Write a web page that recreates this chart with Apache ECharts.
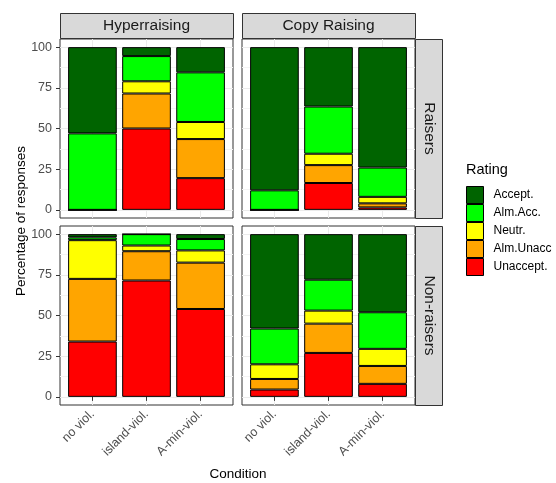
<!DOCTYPE html>
<html><head><meta charset="utf-8">
<script src="https://cdn.jsdelivr.net/npm/echarts@6/dist/echarts.min.js"></script>
<style>html,body{margin:0;padding:0;background:#fff}#c{width:556px;height:483px}</style>
</head><body><div id="c"></div>
<script>
// ---- data ----
const categories = ['no viol.', 'island-viol.', 'A-min-viol.'];
const ratings = ['Accept.', 'Alm.Acc.', 'Neutr.', 'Alm.Unacc', 'Unaccept.'];
const ratingColors = ['#006400', '#00FF00', '#FFFF00', '#FFA500', '#FF0000'];
const constructions = ['Hyperraising', 'Copy Raising'];
const groups = ['Raisers', 'Non-raisers'];
const yTicks = [0, 25, 50, 75, 100];
const yMinorTicks = [12.5, 37.5, 62.5, 87.5];

// values per rating, each array over `categories`
const hyperRaisers = {
  'Accept.':   [53, 5.5, 15.5],
  'Alm.Acc.':  [47, 15.5, 30.5],
  'Neutr.':    [0, 7.5, 10.5],
  'Alm.Unacc': [0, 21.5, 24],
  'Unaccept.': [0, 50, 19.5]
};
const copyRaisers = {
  'Accept.':   [88, 36.5, 74],
  'Alm.Acc.':  [12, 29, 18],
  'Neutr.':    [0, 7, 4],
  'Alm.Unacc': [0, 11, 2.5],
  'Unaccept.': [0, 16.5, 1.5]
};
const hyperNonRaisers = {
  'Accept.':   [2, 0, 3],
  'Alm.Acc.':  [1.7, 7, 7],
  'Neutr.':    [23.8, 3.5, 7.5],
  'Alm.Unacc': [38.5, 18, 28.5],
  'Unaccept.': [34, 71.5, 54]
};
const copyNonRaisers = {
  'Accept.':   [58, 28, 48],
  'Alm.Acc.':  [22, 19, 22.5],
  'Neutr.':    [9, 8, 10.5],
  'Alm.Unacc': [6.5, 18, 11],
  'Unaccept.': [4.5, 27, 8]
};
const panelData = [hyperRaisers, copyRaisers, hyperNonRaisers, copyNonRaisers];

// ---- layout ----
const font = 'Liberation Sans, Arial, Helvetica, sans-serif';
const colX = [60, 242], rowY = [39, 226], pw = 173, ph = 179;
const barW = pw / 3.2 * 0.9;

const grids = [], xAxes = [], yAxes = [], series = [];
for (let p = 0; p < 4; p++) {
  const r = Math.floor(p / 2), c = p % 2;
  grids.push({left: colX[c], top: rowY[r], width: pw, height: ph, show: true,
    borderColor: '#333333', borderWidth: 1, backgroundColor: '#fff', containLabel: false});
  xAxes.push({type: 'value', gridIndex: p, min: 0.4, max: 3.6,
    axisLine: {show: false},
    axisTick: {show: r === 1, customValues: [1, 2, 3], length: 4, lineStyle: {color: '#333333'}},
    axisLabel: {show: r === 1, customValues: [1, 2, 3], rotate: 45, margin: 7,
      formatter: v => categories[Math.round(v) - 1], color: '#4D4D4D', fontSize: 12.5, fontFamily: font},
    splitLine: {show: true, lineStyle: {color: '#EBEBEB', width: 1}}
  });
  yAxes.push({type: 'value', gridIndex: p, min: -5, max: 105,
    axisLine: {show: false},
    axisTick: {show: c === 0, customValues: yTicks, length: 4, lineStyle: {color: '#333333'}},
    axisLabel: {show: c === 0, customValues: yTicks, margin: 8, color: '#4D4D4D', fontSize: 12.5, fontFamily: font},
    splitLine: {show: true, lineStyle: {color: '#EBEBEB', width: 1}}
  });
}
for (let p = 0; p < 4; p++) {
  yAxes.push({type: 'value', gridIndex: p, min: -5, max: 105,
    axisLine: {show: false},
    axisTick: {show: false, customValues: yMinorTicks},
    axisLabel: {show: false, customValues: yMinorTicks},
    splitLine: {show: true, lineStyle: {color: '#F3F3F3', width: 1}}
  });
}
// stack from bottom (Unaccept.) to top (Accept.)
const stackOrder = ratings.slice().reverse();
for (let p = 0; p < 4; p++) {
  stackOrder.forEach(name => {
    const idx = ratings.indexOf(name);
    series.push({
      name: name, type: 'bar', xAxisIndex: p, yAxisIndex: p, stack: 'p' + p,
      barWidth: barW,
      encode: {x: 1, y: 0},
      itemStyle: {color: ratingColors[idx], borderColor: '#000', borderWidth: 1},
      emphasis: {disabled: true},
      data: panelData[p][name].map((v, i) => [v, i + 1])
    });
  });
}

const graphic = [];
constructions.forEach((t, c) => {
  graphic.push({type: 'rect', shape: {x: colX[c] + 0.5, y: 13.5, width: pw, height: 25},
    style: {fill: '#D9D9D9', stroke: '#333333', lineWidth: 1}});
  graphic.push({type: 'text', x: colX[c] + pw / 2, y: 26,
    style: {text: t, fill: '#1A1A1A', font: '15.5px ' + font, textAlign: 'center', textVerticalAlign: 'middle'}});
});
groups.forEach((t, r) => {
  graphic.push({type: 'rect', shape: {x: colX[1] + pw + 0.5, y: rowY[r] + 0.5, width: 27, height: ph},
    style: {fill: '#D9D9D9', stroke: '#333333', lineWidth: 1}});
  graphic.push({type: 'text', x: colX[1] + pw + 14, y: rowY[r] + ph / 2, rotation: -Math.PI / 2,
    style: {text: t, fill: '#1A1A1A', font: '15.5px ' + font, textAlign: 'center', textVerticalAlign: 'middle'}});
});
graphic.push({type: 'text', x: 238, y: 474,
  style: {text: 'Condition', fill: '#000', font: '13.5px ' + font, textAlign: 'center', textVerticalAlign: 'middle'}});
graphic.push({type: 'text', x: 21, y: 221, rotation: Math.PI / 2,
  style: {text: 'Percentage of responses', fill: '#000', font: '13.5px ' + font, textAlign: 'center', textVerticalAlign: 'middle'}});
graphic.push({type: 'text', x: 466, y: 170,
  style: {text: 'Rating', fill: '#000', font: '14.5px ' + font, textAlign: 'left', textVerticalAlign: 'middle'}});

const chart = echarts.init(document.getElementById('c'), null, {renderer: 'canvas'});
chart.setOption({
  animation: false,
  backgroundColor: '#fff',
  grid: grids, xAxis: xAxes, yAxis: yAxes, series: series,
  legend: {data: ratings, orient: 'vertical', left: 466, top: 186, padding: 0, width: 90,
    itemWidth: 17, itemHeight: 17, itemGap: 0,
    icon: 'rect', selectedMode: false,
    itemStyle: {borderColor: '#000', borderWidth: 1},
    textStyle: {color: '#000', fontSize: 12, fontFamily: font, padding: [0, 0, 0, 5], overflow: 'none', width: 80}},
  graphic: graphic
});
</script></body></html>
